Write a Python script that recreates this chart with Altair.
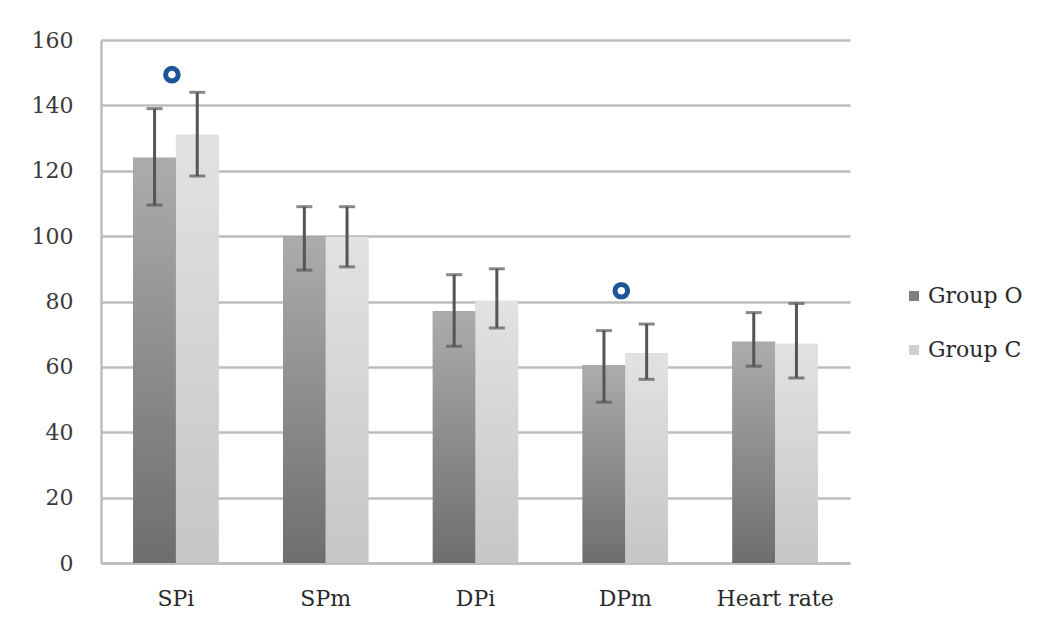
import altair as alt
import pandas as pd

cats = ["SPi", "SPm", "DPi", "DPm", "Heart rate"]
groups = ["Group O", "Group C"]
o_mean = [124, 99.9, 77, 60.6, 67.7]
o_low = [109.5, 89.6, 66.3, 49.2, 60.2]
o_high = [139, 109, 88.2, 71.1, 76.6]
c_mean = [131, 99.7, 80.2, 64.2, 67.1]
c_low = [118.4, 90.6, 71.9, 56.2, 56.6]
c_high = [144, 109, 90, 73.1, 79.4]
sig_cats = ["SPi", "DPm"]
sig_vals = [149.4, 83.3]

rows = []
for i, c in enumerate(cats):
    rows.append({"cat": c, "group": "Group O", "mean": o_mean[i], "low": o_low[i], "high": o_high[i]})
    rows.append({"cat": c, "group": "Group C", "mean": c_mean[i], "low": c_low[i], "high": c_high[i]})
df = pd.DataFrame(rows)
sig = pd.DataFrame({"cat": sig_cats, "val": sig_vals})

FONT = "DejaVu Serif"
GRID = "#bdbdbd"

x_enc = alt.X("cat:N", sort=cats,
              scale=alt.Scale(paddingInner=0.43, paddingOuter=0.215),
              axis=alt.Axis(title=None, labelAngle=0, ticks=False, labelFont=FONT,
                            labelFontSize=22, labelColor="#2a2a2a", labelPadding=25,
                            domainColor=GRID, domainWidth=2.5))
xo_enc = alt.XOffset("group:N", sort=groups, scale=alt.Scale(paddingInner=0, paddingOuter=0))
y_scale = alt.Scale(domain=[0, 160])
y_axis = alt.Axis(title=None, values=list(range(0, 161, 20)), ticks=False, labelFont=FONT,
                  labelFontSize=22, labelColor="#3a3a3a", labelPadding=28,
                  grid=True, gridColor=GRID, gridWidth=2.5, domainColor=GRID, domainWidth=2.5,
                  minExtent=93, maxExtent=93)

base = alt.Chart(df)

legend_bars = base.mark_bar().encode(
    x=x_enc, xOffset=xo_enc,
    y=alt.Y("mean:Q", scale=y_scale, axis=y_axis),
    color=alt.Color("group:N", sort=groups,
                    scale=alt.Scale(domain=groups, range=["#7f7f7f", "#cfcfcf"]),
                    legend=alt.Legend(title=None, orient="none", legendX=802, legendY=245,
                                      symbolType="square", symbolSize=100, symbolStrokeWidth=0,
                                      labelFont=FONT, labelFontSize=22, labelColor="#2a2a2a",
                                      labelOffset=3, rowPadding=32)),
)

def grad(bottom, top):
    return {"gradient": "linear", "x1": 0, "y1": 1, "x2": 0, "y2": 0,
            "stops": [{"offset": 0, "color": bottom}, {"offset": 1, "color": top}]}

bars_o = base.transform_filter(alt.datum.group == "Group O").mark_bar(
    color=grad("#6e6e6e", "#acacac")).encode(x=x_enc, xOffset=xo_enc, y="mean:Q")
bars_c = base.transform_filter(alt.datum.group == "Group C").mark_bar(
    color=grad("#c6c6c6", "#e2e2e2")).encode(x=x_enc, xOffset=xo_enc, y="mean:Q")

err = base.mark_rule(color="#555555", strokeWidth=3).encode(
    x=x_enc, xOffset=xo_enc, y="low:Q", y2="high:Q")
cap_low = base.mark_tick(color="#555555", thickness=3, size=16, orient="horizontal").encode(
    x=x_enc, xOffset=xo_enc, y="low:Q")
cap_high = base.mark_tick(color="#555555", thickness=3, size=16, orient="horizontal").encode(
    x=x_enc, xOffset=xo_enc, y="high:Q")

marks = alt.Chart(sig).mark_point(shape="circle", filled=False, stroke="#1b5597",
                                  strokeWidth=5, size=160, opacity=1, xOffset=-4).encode(
    x=alt.X("cat:N", sort=cats), y="val:Q")

chart = alt.layer(legend_bars, bars_o, bars_c, err, cap_low, cap_high, marks).properties(
    width=749, height=523,
    padding={"left": 0, "top": 21, "right": 0, "bottom": 0},
    background="white",
).configure_view(stroke=None)

chart.save("out.html", embed_options={"renderer": "svg", "actions": False})
